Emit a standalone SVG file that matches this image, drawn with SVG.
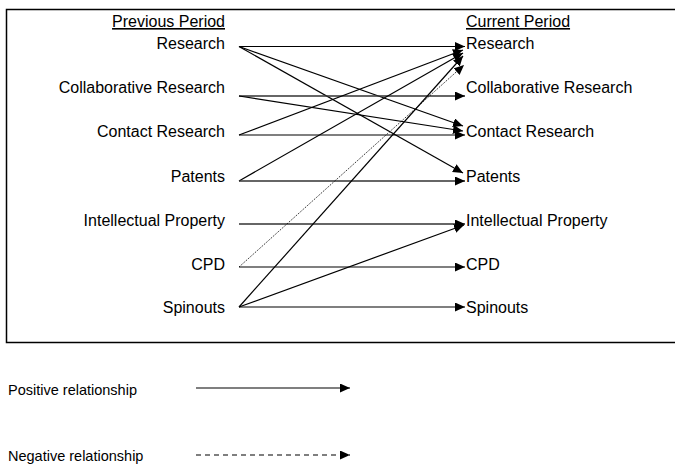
<svg xmlns="http://www.w3.org/2000/svg" width="675" height="465" viewBox="0 0 675 465">
<style>
text{font-family:"Liberation Sans",Arial,sans-serif;font-size:16px;fill:#000}
.l{text-anchor:end}
.u{text-decoration:underline}
.lg{font-size:14.5px}
.e{fill:none;stroke:#000;stroke-width:1.2}
.g{stroke:#333;stroke-width:1.7}
.d{stroke-dasharray:1.2 1.2;stroke-width:0.9}
.dash{stroke-dasharray:5 4}
</style>
<defs>
<marker id="ah" markerUnits="userSpaceOnUse" markerWidth="12" markerHeight="10" refX="10" refY="4.5" orient="auto">
<path d="M0,0 L10,4.5 L0,9 Z" fill="#000"/>
</marker>
</defs>
<rect x="6.5" y="9.5" width="700" height="333" fill="none" stroke="#000" stroke-width="1.5"/>
<g id="headers">
<text class="l u" x="225" y="27">Previous Period</text>
<text class="u" x="466" y="27">Current Period</text>
</g>
<g id="prev-research"><text class="l" x="225" y="49">Research</text></g>
<g id="prev-collab"><text class="l" x="225" y="93">Collaborative Research</text></g>
<g id="prev-contact"><text class="l" x="225" y="136.5">Contact Research</text></g>
<g id="prev-patents"><text class="l" x="225" y="182">Patents</text></g>
<g id="prev-ip"><text class="l" x="225" y="226">Intellectual Property</text></g>
<g id="prev-cpd"><text class="l" x="225" y="270">CPD</text></g>
<g id="prev-spinouts"><text class="l" x="225" y="313">Spinouts</text></g>
<g id="cur-research"><text x="466" y="49">Research</text></g>
<g id="cur-collab"><text x="466" y="93">Collaborative Research</text></g>
<g id="cur-contact"><text x="466" y="137">Contact Research</text></g>
<g id="cur-patents"><text x="466" y="182">Patents</text></g>
<g id="cur-ip"><text x="466" y="226">Intellectual Property</text></g>
<g id="cur-cpd"><text x="466" y="270">CPD</text></g>
<g id="cur-spinouts"><text x="466" y="313">Spinouts</text></g>
<g id="connectors" marker-end="url(#ah)">
<path class="e" d="M239,46.5 L465,46.5"/>
<path class="e" d="M239,46.5 L463,126"/>
<path class="e" d="M239,46.5 L463,173"/>
<path class="e g" d="M239,96 L465,96"/>
<path class="e" d="M239,96 L463,131"/>
<path class="e" d="M239,135 L463,50"/>
<path class="e" d="M239,135 L465,135"/>
<path class="e" d="M239,181 L463,53"/>
<path class="e g" d="M239,181 L465,181"/>
<path class="e g" d="M239,224 L465,224"/>
<path class="e d" d="M239,267 L464,65"/>
<path class="e" d="M239,267 L465,267"/>
<path class="e" d="M239,307 L463,56"/>
<path class="e" d="M239,307 L464,225"/>
<path class="e" d="M239,307 L465,307"/>
</g>
<g id="legend">
<text class="lg" x="8" y="395">Positive relationship</text>
<path class="e" d="M196,388 L350,388" marker-end="url(#ah)"/>
<text class="lg" x="8" y="461">Negative relationship</text>
<path class="e dash" d="M196,455 L350,455" marker-end="url(#ah)"/>
</g>
</svg>
